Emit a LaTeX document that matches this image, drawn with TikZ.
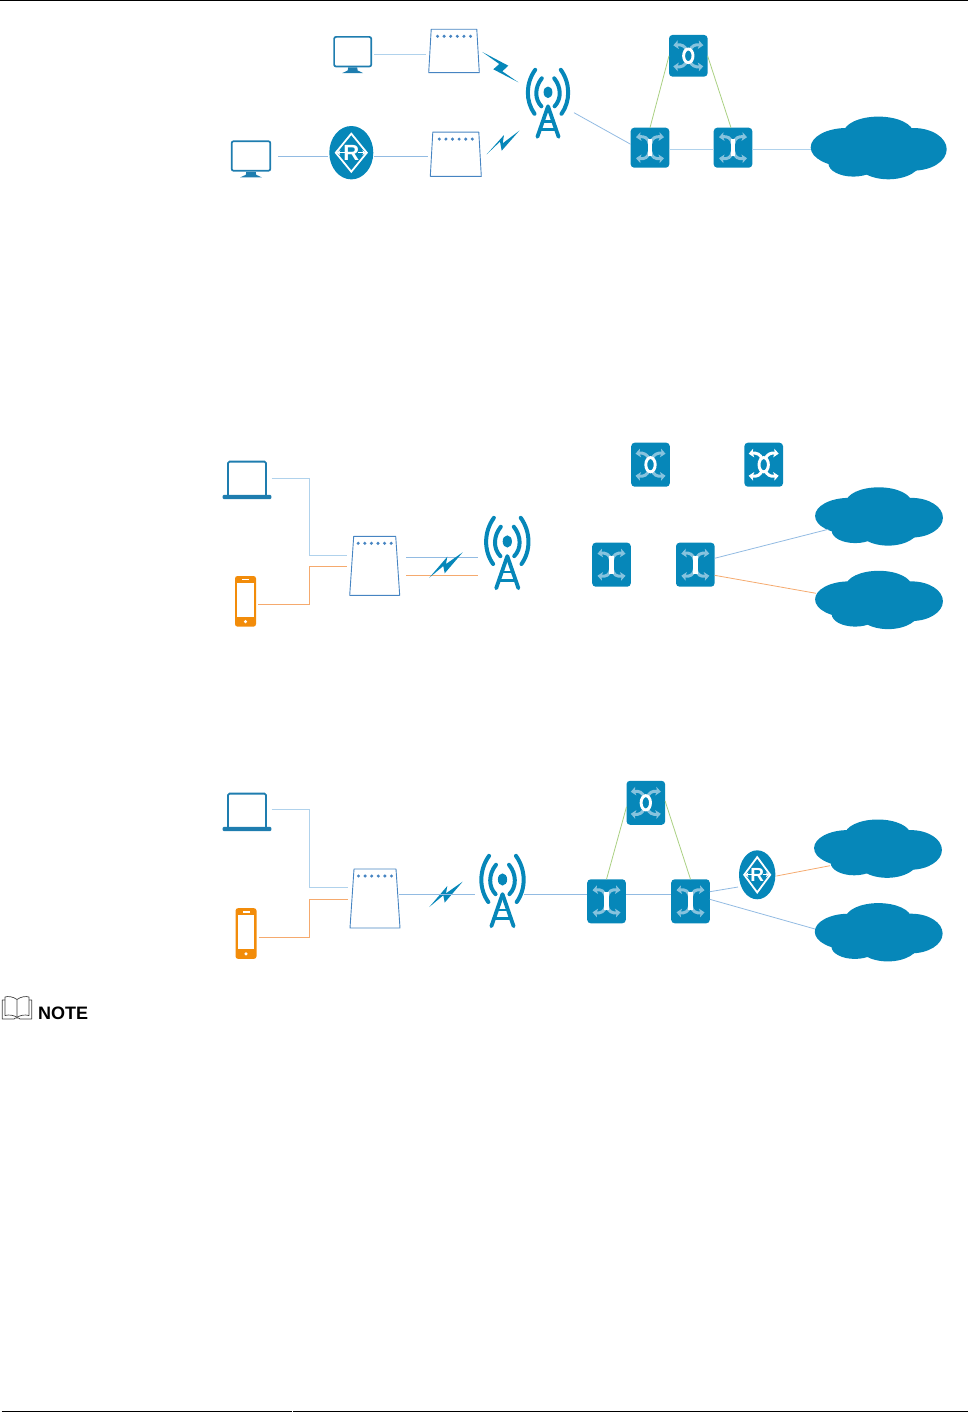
\documentclass[tikz,border=0pt]{standalone}
\usepackage{fontspec}
\setsansfont{Liberation Sans}
\usetikzlibrary{arrows.meta,shapes.geometric}
\definecolor{hwblue}{RGB}{6,135,185}
\definecolor{hwpale}{RGB}{135,195,222}
\definecolor{hwline}{RGB}{30,125,175}
\definecolor{modline}{RGB}{70,132,194}
\definecolor{linkpale}{RGB}{176,210,236}
\definecolor{linkblue}{RGB}{146,187,226}
\definecolor{linkorange}{RGB}{245,170,110}
\definecolor{linkgreen}{RGB}{170,208,130}
\definecolor{phoneorange}{RGB}{242,140,10}
\begin{document}
\begin{tikzpicture}[
			x=1pt, y=-1pt,
			dev/.style={rectangle, inner sep=0pt, outer sep=0pt, minimum width=#1},
			swbox/.style={rectangle, rounded corners=3.5pt, fill=hwblue, inner sep=0pt, outer sep=0pt, minimum width=38.6pt, minimum height=44pt},
			rtnode/.style={ellipse, fill=hwblue, text=white, inner sep=0pt, outer sep=1pt, font=\sffamily\bfseries},
			link/.style={line width=0.8pt, linkblue},
			linkp/.style={line width=0.8pt, linkpale},
			linko/.style={line width=0.8pt, linkorange},
			linkg/.style={line width=0.8pt, linkgreen},
			swarrow/.style={draw=#1, line width=3pt, -{Stealth[length=5pt,width=8.6pt,inset=1pt]}},
			pics/barmark/.style={code={
				\foreach \sx in {-1,1} \foreach \sy in {-1,1}
				\draw[swarrow=#1](\sx*0.8,\sy*4) .. controls (\sx*1.5,\sy*10) and (\sx*6,\sy*11.5) .. (\sx*14,\sy*10.5);
				\fill[white](-2.2,-8.5) rectangle (2.2,8.5);
			}},
			pics/ringmark/.style={code={
				\foreach \sx in {-1,1} \foreach \sy in {-1,1}
				\draw[swarrow=#1](\sx*1.5,\sy*5) .. controls (\sx*3,\sy*10) and (\sx*7,\sy*11.5) .. (\sx*15,\sy*10.5);
				\draw[white,line width=2.9pt](0,0) ellipse [x radius=4.7pt, y radius=6.8pt];
			}},
			pics/rtmark/.style={code={
				\draw[white,line width=1.8pt,line join=miter](0,-19)--(15.5,0)--(0,19)--(-15.5,0)--cycle;
				\foreach \sx in {-1,1}
				\draw[white,line width=1.3pt,-{Stealth[length=3.6pt,width=5pt]}](\sx*6.5,0)--(\sx*14.6,0);
			}},
			pics/pcicon/.style={code={
				\draw[hwline,line width=1.7pt,rounded corners=2pt](-18.6,-17.6) rectangle (18.6,12);
				\fill[hwline](-4.5,13)--(4.5,13)--(5,16)--(10.5,18.6)--(-10.5,18.6)--(-5,16)--cycle;
			}},
			pics/lapicon/.style={code={
				\draw[hwline,line width=1.8pt,rounded corners=1.5pt](-19,15)--(-19,-18.4)--(19,-18.4)--(19,15);
				\fill[hwline,rounded corners=1.2pt](-24.4,14.8) rectangle (24.4,19.2);
			}},
			pics/phoneicon/.style={code={
				\fill[phoneorange,rounded corners=2.5pt](-10.5,-25.3) rectangle (10.5,25.3);
				\fill[white](-8.4,-18.2) rectangle (8.4,15.4);
				\fill[white](-3.5,-22.4) rectangle (3.5,-21);
				\fill[white](0,20.3) circle (1.7pt);
			}},
			pics/modicon/.style n args={3}{code={
				\draw[modline,line width=0.9pt,line join=round](-#1,-#3)--(#1,-#3)--(#2,#3)--(-#2,#3)--cycle;
				\foreach \dx in {-2.5,-1.5,-0.5,0.5,1.5,2.5}
				\fill[modline](\dx*6.6,-#3+7) circle (1.7pt);
			}},
			pics/towericon/.style={code={
				\foreach \sx in {-1,1} {
					\draw[hwblue,line width=4pt,line cap=round](\sx*6.2,-25) .. controls (\sx*13.5,-16) and (\sx*13.5,-4) .. (\sx*6.6,3);
					\draw[hwblue,line width=4pt,line cap=round](\sx*12.8,-33.5) .. controls (\sx*22.5,-20) and (\sx*22.5,-2) .. (\sx*13.5,10.5);
					\draw[hwblue,line width=3.8pt,line cap=round](0,3)--(\sx*10.6,33.6);
				}
				\fill[hwblue](0,-11) ellipse [x radius=4.4pt, y radius=5.8pt];
				\fill[hwblue](-5,17) rectangle (5,19.5);
				\fill[hwblue](-7.5,25) rectangle (7.5,28);
			}},
			pics/cloudicon/.style={code={
				\fill[hwblue](-32,-0.7) ellipse [x radius=36pt, y radius=19.3pt];
				\fill[hwblue](-0.3,-14.7) ellipse [x radius=35pt, y radius=16.7pt];
				\fill[hwblue](34.7,1.3) ellipse [x radius=33.3pt, y radius=21.3pt];
				\fill[hwblue](-25.3,15.3) ellipse [x radius=25pt, y radius=13.3pt];
				\fill[hwblue](9.7,12) ellipse [x radius=33.3pt, y radius=19.3pt];
			}},
			]
			
			\useasboundingbox (0,0) rectangle (968,1413);
			\draw[black,line width=1.5pt](0,0.7)--(968,0.7);
			
			%% ── first network ──────────────────────────────────────
			\node[dev=42.6pt,minimum height=37pt](pcA)at(352.7,54.5){};
			\node[dev=54pt,minimum height=43.4pt](pcB)at(251,158.8){};
			\node[rtnode,minimum width=44pt,minimum height=53.4pt,font=\sffamily\bfseries\fontsize{22}{22}\selectfont](rtA)at(351.3,152.7){R};
			\node[dev=56pt,minimum height=43.4pt](modA)at(454,51){};
			\node[dev=55.6pt,minimum height=44.3pt](modB)at(455.8,154.2){};
			\node[dev=44pt,minimum height=72pt](twA)at(548,103.3){};
			\node[swbox,minimum height=40pt](swA)at(650,147.7){};
			\node[swbox,minimum height=40pt](swB)at(733,147.7){};
			\node[swbox,minimum height=41.7pt](swC)at(688.3,55.8){};
			\node[dev=136pt,minimum height=62.6pt](clA)at(878.7,148){};
			
			\pic at(pcA){pcicon};
			\pic[xscale=1.04] at(pcB){pcicon};
			\pic at(rtA){rtmark};
			\pic at(modA){modicon={22.8}{25.3}{21.7}};
			\pic at(modB){modicon={23}{25.5}{22.1}};
			\pic at(twA){towericon};
			\pic at(swA){barmark=hwpale};
			\pic at(swB){barmark=hwpale};
			\pic at(swC){ringmark=hwpale};
			\pic at(clA){cloudicon};
			
			\fill[hwblue](482.3,52)--(508.3,65.7)--(502.3,71.3)--(518.3,82.3)--(493.3,69.3)--(499.3,64)--cycle;
			\fill[hwblue](486.7,154.3)--(504,135)--(502.7,143.3)--(519.3,130.7)--(501.7,150.7)--(500,141.7)--cycle;
			
			\draw[linkp](pcA.east)--(pcA.east-|modA.west);
			\draw[link]([yshift=2.8pt]pcB.east)--([yshift=-3.3pt]rtA.west);
			\draw[link]([yshift=-3.3pt]rtA.east)--([yshift=-1.8pt]modB.west);
			\draw[link]([shift={(4pt,-9.4pt)}]twA.east)--([yshift=3.4pt]swA.west);
			\draw[linkg](swA.north)--(swC.west);
			\draw[linkg](swC.east)--([xshift=-2pt]swB.north);
			\draw[linkp]([yshift=-1.3pt]swA.east)--([yshift=-1.3pt]swB.west);
			\draw[linkp]([yshift=-1.3pt]swB.east)--([yshift=-1pt]clA.west);
			
			%% ── second network ─────────────────────────────────────
			\node[dev=49pt,minimum height=39pt](lapA)at(247,480){};
			\node[dev=25pt,minimum height=50.7pt](phA)at(245.5,601.3){};
			\node[dev=54.8pt,minimum height=59pt](modC)at(374.7,565.8){};
			\node[dev=46pt,minimum height=76pt](twC)at(507.3,553){};
			\node[swbox](swD)at(650.5,464.7){};
			\node[swbox](swE)at(763.7,464.7){};
			\node[swbox](swF)at(611.5,564.7){};
			\node[swbox](swG)at(695.3,564.7){};
			\node[dev=128pt,minimum height=58.4pt](clB)at(879,516.5){};
			\node[dev=128pt,minimum height=58.4pt](clC)at(879,600){};
			
			\pic at(lapA){lapicon};
			\pic at(phA){phoneicon};
			\pic at(modC){modicon={21}{25}{29.5}};
			\pic[scale=1.05] at(twC){towericon};
			\pic[yscale=1.05] at(swD){ringmark=hwpale};
			\pic[yscale=1.05] at(swE){ringmark=white};
			\pic[yscale=1.05] at(swF){barmark=hwpale};
			\pic[yscale=1.05] at(swG){barmark=hwpale};
			\pic[xscale=.94,yscale=.93] at(clB){cloudicon};
			\pic[xscale=.94,yscale=.93] at(clC){cloudicon};
			
			\draw[link]([xshift=4pt,yshift=8.5pt]modC.east)--([xshift=-6.7pt,yshift=-4.3pt]twC.west);
			\draw[linko]([xshift=4pt,yshift=-9.5pt]modC.east)--([xshift=-6.7pt,yshift=-22.3pt]twC.west);
			\fill[hwblue](429.3,577.7)--(447.3,556.7)--(446,564)--(462.7,552.3)--(444.7,573.3)--(443.3,566)--cycle;
			
			\draw[linkp]([yshift=2pt]lapA.east)--++(37.8,0)|-([yshift=10.5pt]modC.west);
			\draw[linko]([yshift=-3pt]phA.east)--++(51.3,0)|-([yshift=-0.5pt]modC.west);
			\draw[link]([yshift=6.4pt]swG.east)--([shift={(13.3pt,16.4pt)}]clB.south west);
			\draw[linko]([yshift=-10.6pt]swG.east)--([shift={(1pt,6.7pt)}]clC.west);
			
			%% ── third network ──────────────────────────────────────
			\node[dev=49pt,minimum height=39pt](lapB)at(247,812){};
			\node[dev=25pt,minimum height=50.7pt](phB)at(246,933.5){};
			\node[dev=54.8pt,minimum height=59pt](modD)at(375,898.5){};
			\node[dev=46pt,minimum height=76pt](twD)at(502.5,891){};
			\node[swbox](swH)at(645.8,802.8){};
			\node[swbox](swI)at(606.5,901.3){};
			\node[swbox](swJ)at(690.5,901.3){};
			\node[rtnode,minimum width=36.4pt,minimum height=49pt,font=\sffamily\bfseries\fontsize{19}{19}\selectfont](rtB)at(757.2,874.8){R};
			\node[dev=128pt,minimum height=58.4pt](clD)at(878,848.7){};
			\node[dev=128pt,minimum height=58.4pt](clE)at(878.7,932.3){};
			
			\pic at(lapB){lapicon};
			\pic at(phB){phoneicon};
			\pic at(modD){modicon={21}{25}{29.5}};
			\pic[scale=1.05] at(twD){towericon};
			\pic[yscale=1.05] at(swH){ringmark=hwpale};
			\pic[yscale=1.05] at(swI){barmark=hwpale};
			\pic[yscale=1.05] at(swJ){barmark=hwpale};
			\pic[xscale=.84,yscale=.93] at(rtB){rtmark};
			\pic[xscale=.94,yscale=.93] at(clD){cloudicon};
			\pic[xscale=.94,yscale=.93] at(clE){cloudicon};
			
			\fill[hwblue](429.3,907)--(447.3,886)--(446,893.3)--(462.7,881.6)--(444.7,902.6)--(443.3,895.3)--cycle;
			
			\draw[linkp]([yshift=3pt]lapB.east)--++(37.8,0)|-([yshift=11.5pt]modD.west);
			\draw[linko]([yshift=-3.5pt]phB.east)--++(51.3,0)|-([yshift=-0.5pt]modD.west);
			\draw[link]([xshift=-3pt,yshift=4.5pt]modD.east)--([xshift=-5pt,yshift=-3pt]twD.west);
			\draw[link]([xshift=-1.5pt,yshift=-3pt]twD.east)--([yshift=7.3pt]swI.west);
			\draw[link]([yshift=7.3pt]swI.east)--([yshift=7.3pt]swJ.west);
			\draw[linkg](swI.north)--([yshift=-4pt]swH.west);
			\draw[linkg]([yshift=1.8pt]swH.east)--(swJ.north);
			\draw[link]([yshift=9.6pt]swJ.east)--([yshift=-12.2pt]rtB.west);
			\draw[linko]([yshift=-1.2pt]rtB.east)--([shift={(16pt,-17pt)}]clD.west);
			\draw[link]([yshift=2pt]swJ.east)--([shift={(0.3pt,3.3pt)}]clE.west);
			
			%% ── note mark ──────────────────────────────────────────
			\draw[black!75,line width=0.7pt,line join=round](17,999.5) .. controls (13,996.5) and (8,996) .. (5,997)--(5,1015.5) .. controls (9,1014.5) and (14,1015) .. (17,1017.5) .. controls (20,1015) and (25,1014.5) .. (29,1015.5)--(29,997) .. controls (26,996) and (21,996.5) .. (17,999.5)--(17,1017.5);
			\draw[black!75,line width=0.7pt,line join=round](5,1000)--(2.3,1000)--(2.3,1019)--(14,1019) .. controls (15,1017.5) and (19,1017.5) .. (20,1019)--(31.7,1019)--(31.7,1000)--(29,1000);
			\node[anchor=west,inner sep=0pt,font=\sffamily\bfseries\fontsize{18}{18}\selectfont](noteA)at(38,1013.2){NOTE};
			
			\draw[black,line width=1pt](1.7,1411.8)--(291.7,1411.8);
			\draw[black,line width=1pt](293,1411.8)--(968,1411.8);
			
	\end{tikzpicture}
\end{document}
